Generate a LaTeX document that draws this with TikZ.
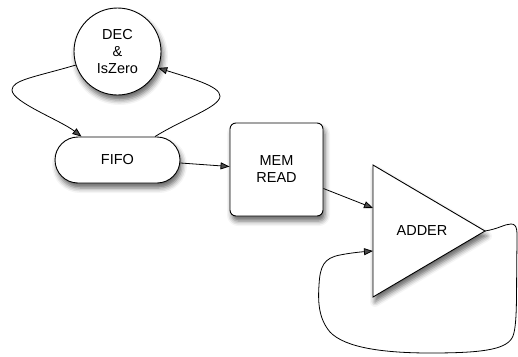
\documentclass[tikz,border=0pt]{standalone}
\usepackage{fontspec}
\setmainfont{Liberation Sans}
\usetikzlibrary{shapes.misc,arrows.meta,calc,shadows.blur}
\begin{document}
\begin{tikzpicture}[x=1pt,y=-1pt,
  every node/.style={font=\fontsize{14.5}{17}\selectfont},
  shp/.style={draw=black,line width=0.9pt,fill=white,
    blur shadow={shadow xshift=2pt,shadow yshift=-5pt,shadow blur radius=5pt,shadow opacity=60}},
  con/.style={line width=0.8pt,-{Triangle[length=9pt,width=7pt]}}]
\useasboundingbox (0,0) rectangle (518,356);
\node[shp,circle,minimum size=87pt,inner sep=0pt,align=center] (dec) at (117.5,51.5) {DEC\\\&\\IsZero};
\node[shp,rounded rectangle,minimum width=125pt,minimum height=46pt,inner sep=0pt] (fifo) at (117.5,160) {FIFO};
\node[shp,rectangle,rounded corners=6pt,minimum width=93pt,minimum height=93pt,inner sep=0pt,align=center] (mem) at (276.5,169.5) {MEM\\READ};
\coordinate (ttop) at (373,165);
\coordinate (ttip) at (485,231);
\coordinate (tbot) at (373,297);
\draw[shp,line join=miter] (ttop) -- (ttip) -- (tbot) -- cycle;
\node (adder) at (422,231) {ADDER};
\coordinate (in1) at (373,208);
\coordinate (in2) at (373,251);
\coordinate (f1) at ($(fifo.north)+(-36,0)$);
\coordinate (f2) at ($(fifo.north)+(37.5,0)$);
\draw[con] (dec.198) .. controls (35,77) and (12,80) .. (12,90)
  .. controls (12,102) and (60,120) .. (f1);
\draw[con] (f2) .. controls (185,118) and (220,107) .. (220,96)
  .. controls (220,86) and (190,78) .. (dec.-22);
\draw[con] ($(fifo.east)+(0,3)$) -- ($(mem.west)+(0,-3)$);
\draw[con] ($(mem.east)+(0,19)$) -- (in1);
\draw[con] (ttip) .. controls (498,229) and (505,224) .. (511,224)
  .. controls (518,224) and (517,232) .. (517,245)
  .. controls (516,290) and (518,328) .. (512,338)
  .. controls (505,350) and (480,353) .. (430,353)
  .. controls (385,353) and (345,348) .. (330,332)
  .. controls (318,318) and (318,300) .. (319,285)
  .. controls (320,266) and (324,258) .. (340,255)
  .. controls (350,253) and (360,252) .. (in2);
\end{tikzpicture}
\end{document}
